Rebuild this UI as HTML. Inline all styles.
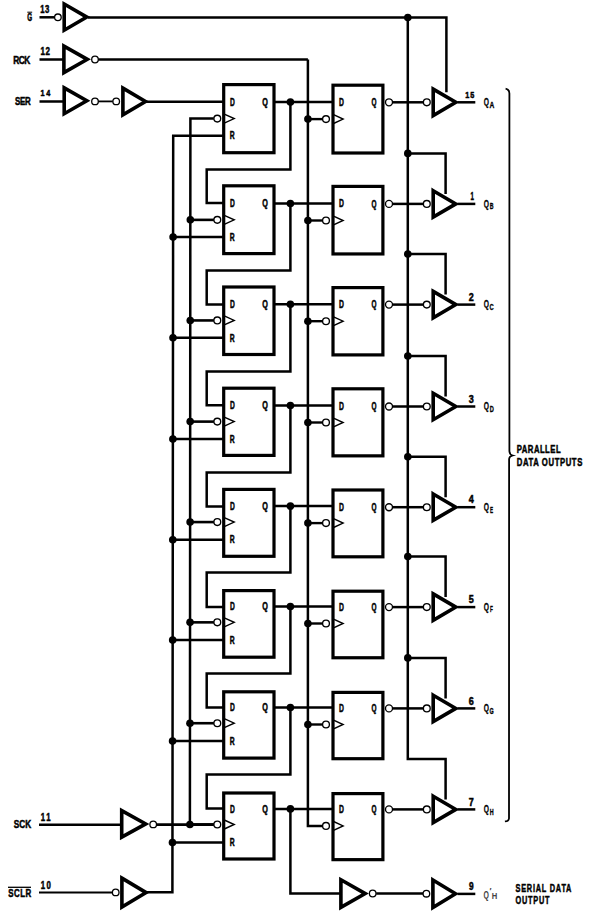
<!DOCTYPE html>
<html><head><meta charset="utf-8"><style>
html,body{margin:0;padding:0;background:#fff;width:605px;height:913px;overflow:hidden}
svg{display:block}
text{font-family:"Liberation Sans",sans-serif;font-weight:bold}
</style></head><body>
<svg width="605" height="913" viewBox="0 0 605 913">
<g stroke="#000" fill="none" stroke-linecap="butt">
<line x1="39.50" y1="17.30" x2="54.20" y2="17.30" stroke-width="2.5"/>
<circle cx="57.90" cy="17.30" r="3.3" fill="#fff" stroke-width="1.3"/>
<polygon points="64.20,4.00 86.80,17.10 64.20,30.20" fill="#fff" stroke-width="3.6" stroke-linejoin="miter" stroke-miterlimit="10"/>
<line x1="88.00" y1="17.40" x2="407.80" y2="17.40" stroke-width="2.5"/>
<line x1="39.50" y1="59.50" x2="63.00" y2="59.50" stroke-width="2.5"/>
<polygon points="63.90,46.10 87.30,59.35 63.90,72.60" fill="#fff" stroke-width="3.6" stroke-linejoin="miter" stroke-miterlimit="10"/>
<circle cx="95.00" cy="59.50" r="3.3" fill="#fff" stroke-width="1.3"/>
<line x1="98.30" y1="59.50" x2="307.90" y2="59.50" stroke-width="2.5"/>
<line x1="39.50" y1="101.50" x2="63.00" y2="101.50" stroke-width="2.5"/>
<polygon points="64.20,87.85 86.80,100.80 64.20,113.75" fill="#fff" stroke-width="3.6" stroke-linejoin="miter" stroke-miterlimit="10"/>
<circle cx="95.00" cy="101.40" r="3.3" fill="#fff" stroke-width="1.3"/>
<line x1="98.30" y1="101.40" x2="112.90" y2="101.40" stroke-width="1.8"/>
<circle cx="116.20" cy="101.40" r="3.3" fill="#fff" stroke-width="1.3"/>
<polygon points="122.90,88.10 145.50,101.50 122.90,114.90" fill="#fff" stroke-width="3.6" stroke-linejoin="miter" stroke-miterlimit="10"/>
<line x1="146.00" y1="101.80" x2="224.00" y2="101.80" stroke-width="2.5"/>
<line x1="39.00" y1="824.70" x2="121.00" y2="824.70" stroke-width="2.5"/>
<polygon points="121.70,810.65 145.70,823.90 121.70,837.15" fill="#fff" stroke-width="3.6" stroke-linejoin="miter" stroke-miterlimit="10"/>
<circle cx="153.20" cy="824.40" r="3.3" fill="#fff" stroke-width="1.3"/>
<line x1="156.40" y1="824.60" x2="213.80" y2="824.60" stroke-width="2.8"/>
<line x1="39.00" y1="892.50" x2="112.30" y2="892.50" stroke-width="2.2"/>
<circle cx="115.70" cy="892.40" r="3.3" fill="#fff" stroke-width="1.3"/>
<polygon points="121.90,878.10 146.10,892.60 121.90,907.10" fill="#fff" stroke-width="3.6" stroke-linejoin="miter" stroke-miterlimit="10"/>
<polyline points="147.00,892.30 172.40,892.30 173.20,135.70 224.00,135.70" stroke-width="2.5" fill="none"/>
<polyline points="189.90,824.49 190.40,118.60 213.80,118.60" stroke-width="2.5" fill="none"/>
<polyline points="307.90,59.50 307.90,825.90 322.50,825.90" stroke-width="2.5" fill="none"/>
<polyline points="407.80,17.50 407.80,758.90 445.60,758.90 445.60,799.40" stroke-width="2.5" fill="none"/>
<polyline points="407.80,17.50 446.40,17.50 446.40,92.30" stroke-width="2.5" fill="none"/>
<circle cx="407.80" cy="17.50" r="3.8" fill="#000" stroke="none"/>
<rect x="223.70" y="84.60" width="50.30" height="68.10" stroke-width="3.2" fill="none"/>
<polyline points="223.70,113.85 234.20,118.60 223.70,123.35" fill="none" stroke-width="1.4" stroke-linejoin="miter"/>
<circle cx="217.30" cy="118.60" r="3.4" fill="#fff" stroke-width="1.35"/>
<line x1="274.00" y1="102.10" x2="333.00" y2="102.10" stroke-width="2.5"/>
<circle cx="290.40" cy="102.10" r="3.8" fill="#000" stroke="none"/>
<polyline points="290.40,102.10 290.40,169.40 206.70,169.40 206.70,203.10 224.00,203.10" stroke-width="2.5" fill="none"/>
<rect x="333.00" y="85.20" width="49.90" height="67.80" stroke-width="3.2" fill="none"/>
<polyline points="333.00,114.45 343.10,119.10 333.00,123.75" fill="none" stroke-width="1.4" stroke-linejoin="miter"/>
<circle cx="326.00" cy="119.10" r="3.4" fill="#fff" stroke-width="1.35"/>
<line x1="307.90" y1="119.10" x2="322.60" y2="119.10" stroke-width="2.4"/>
<circle cx="307.90" cy="119.10" r="3.8" fill="#000" stroke="none"/>
<circle cx="389.00" cy="102.30" r="3.5" fill="#fff" stroke-width="1.35"/>
<line x1="392.50" y1="102.30" x2="423.20" y2="102.30" stroke-width="2.5"/>
<circle cx="426.80" cy="102.30" r="3.4" fill="#fff" stroke-width="1.35"/>
<polygon points="433.20,89.10 455.80,102.30 433.20,115.50" fill="#fff" stroke-width="3.6" stroke-linejoin="miter" stroke-miterlimit="10"/>
<line x1="457.50" y1="102.30" x2="475.30" y2="102.30" stroke-width="2.5"/>
<rect x="223.70" y="185.80" width="50.30" height="67.80" stroke-width="3.2" fill="none"/>
<polyline points="223.70,215.12 234.20,219.87 223.70,224.62" fill="none" stroke-width="1.4" stroke-linejoin="miter"/>
<circle cx="217.30" cy="219.87" r="3.4" fill="#fff" stroke-width="1.35"/>
<line x1="190.33" y1="219.87" x2="213.90" y2="219.87" stroke-width="2.6"/>
<circle cx="190.33" cy="219.87" r="3.8" fill="#000" stroke="none"/>
<line x1="173.09" y1="237.10" x2="224.00" y2="237.10" stroke-width="2.5"/>
<circle cx="173.09" cy="237.10" r="3.8" fill="#000" stroke="none"/>
<line x1="274.00" y1="203.50" x2="333.00" y2="203.50" stroke-width="2.5"/>
<circle cx="290.40" cy="203.50" r="3.8" fill="#000" stroke="none"/>
<polyline points="290.40,203.50 290.40,270.50 206.70,270.50 206.70,304.50 224.00,304.50" stroke-width="2.5" fill="none"/>
<rect x="333.00" y="186.40" width="49.90" height="67.55" stroke-width="3.2" fill="none"/>
<polyline points="333.00,215.85 343.10,220.50 333.00,225.15" fill="none" stroke-width="1.4" stroke-linejoin="miter"/>
<circle cx="326.00" cy="220.50" r="3.4" fill="#fff" stroke-width="1.35"/>
<line x1="307.90" y1="220.50" x2="322.60" y2="220.50" stroke-width="2.4"/>
<circle cx="307.90" cy="220.50" r="3.8" fill="#000" stroke="none"/>
<circle cx="389.00" cy="203.90" r="3.5" fill="#fff" stroke-width="1.35"/>
<line x1="392.50" y1="203.90" x2="423.20" y2="203.90" stroke-width="2.5"/>
<circle cx="426.80" cy="203.90" r="3.4" fill="#fff" stroke-width="1.35"/>
<polygon points="433.20,190.70 455.80,203.90 433.20,217.10" fill="#fff" stroke-width="3.6" stroke-linejoin="miter" stroke-miterlimit="10"/>
<line x1="457.50" y1="203.90" x2="475.30" y2="203.90" stroke-width="2.5"/>
<polyline points="407.80,153.40 445.60,153.40 445.60,193.90" stroke-width="2.5" fill="none"/>
<circle cx="407.80" cy="153.40" r="3.8" fill="#000" stroke="none"/>
<rect x="223.70" y="287.00" width="50.30" height="67.50" stroke-width="3.2" fill="none"/>
<polyline points="223.70,315.69 234.20,320.44 223.70,325.19" fill="none" stroke-width="1.4" stroke-linejoin="miter"/>
<circle cx="217.30" cy="320.44" r="3.4" fill="#fff" stroke-width="1.35"/>
<line x1="190.26" y1="320.44" x2="213.90" y2="320.44" stroke-width="2.6"/>
<circle cx="190.26" cy="320.44" r="3.8" fill="#000" stroke="none"/>
<line x1="172.99" y1="337.80" x2="224.00" y2="337.80" stroke-width="2.5"/>
<circle cx="172.99" cy="337.80" r="3.8" fill="#000" stroke="none"/>
<line x1="274.00" y1="304.20" x2="333.00" y2="304.20" stroke-width="2.5"/>
<circle cx="290.40" cy="304.20" r="3.8" fill="#000" stroke="none"/>
<polyline points="290.40,304.20 290.40,371.40 206.70,371.40 206.70,405.20 224.00,405.20" stroke-width="2.5" fill="none"/>
<rect x="333.00" y="287.60" width="49.90" height="67.30" stroke-width="3.2" fill="none"/>
<polyline points="333.00,316.55 343.10,321.20 333.00,325.85" fill="none" stroke-width="1.4" stroke-linejoin="miter"/>
<circle cx="326.00" cy="321.20" r="3.4" fill="#fff" stroke-width="1.35"/>
<line x1="307.90" y1="321.20" x2="322.60" y2="321.20" stroke-width="2.4"/>
<circle cx="307.90" cy="321.20" r="3.8" fill="#000" stroke="none"/>
<circle cx="389.00" cy="304.60" r="3.5" fill="#fff" stroke-width="1.35"/>
<line x1="392.50" y1="304.60" x2="423.20" y2="304.60" stroke-width="2.5"/>
<circle cx="426.80" cy="304.60" r="3.4" fill="#fff" stroke-width="1.35"/>
<polygon points="433.20,291.40 455.80,304.60 433.20,317.80" fill="#fff" stroke-width="3.6" stroke-linejoin="miter" stroke-miterlimit="10"/>
<line x1="457.50" y1="304.60" x2="475.30" y2="304.60" stroke-width="2.5"/>
<polyline points="407.80,254.10 445.60,254.10 445.60,294.60" stroke-width="2.5" fill="none"/>
<circle cx="407.80" cy="254.10" r="3.8" fill="#000" stroke="none"/>
<rect x="223.70" y="388.20" width="50.30" height="67.20" stroke-width="3.2" fill="none"/>
<polyline points="223.70,416.86 234.20,421.61 223.70,426.36" fill="none" stroke-width="1.4" stroke-linejoin="miter"/>
<circle cx="217.30" cy="421.61" r="3.4" fill="#fff" stroke-width="1.35"/>
<line x1="190.19" y1="421.61" x2="213.90" y2="421.61" stroke-width="2.6"/>
<circle cx="190.19" cy="421.61" r="3.8" fill="#000" stroke="none"/>
<line x1="172.88" y1="439.10" x2="224.00" y2="439.10" stroke-width="2.5"/>
<circle cx="172.88" cy="439.10" r="3.8" fill="#000" stroke="none"/>
<line x1="274.00" y1="405.50" x2="333.00" y2="405.50" stroke-width="2.5"/>
<circle cx="290.40" cy="405.50" r="3.8" fill="#000" stroke="none"/>
<polyline points="290.40,405.50 290.40,472.50 206.70,472.50 206.70,506.50 224.00,506.50" stroke-width="2.5" fill="none"/>
<rect x="333.00" y="388.80" width="49.90" height="67.05" stroke-width="3.2" fill="none"/>
<polyline points="333.00,417.85 343.10,422.50 333.00,427.15" fill="none" stroke-width="1.4" stroke-linejoin="miter"/>
<circle cx="326.00" cy="422.50" r="3.4" fill="#fff" stroke-width="1.35"/>
<line x1="307.90" y1="422.50" x2="322.60" y2="422.50" stroke-width="2.4"/>
<circle cx="307.90" cy="422.50" r="3.8" fill="#000" stroke="none"/>
<circle cx="389.00" cy="406.50" r="3.5" fill="#fff" stroke-width="1.35"/>
<line x1="392.50" y1="406.50" x2="423.20" y2="406.50" stroke-width="2.5"/>
<circle cx="426.80" cy="406.50" r="3.4" fill="#fff" stroke-width="1.35"/>
<polygon points="433.20,393.30 455.80,406.50 433.20,419.70" fill="#fff" stroke-width="3.6" stroke-linejoin="miter" stroke-miterlimit="10"/>
<line x1="457.50" y1="406.50" x2="475.30" y2="406.50" stroke-width="2.5"/>
<polyline points="407.80,356.00 445.60,356.00 445.60,396.50" stroke-width="2.5" fill="none"/>
<circle cx="407.80" cy="356.00" r="3.8" fill="#000" stroke="none"/>
<rect x="223.70" y="489.40" width="50.30" height="66.90" stroke-width="3.2" fill="none"/>
<polyline points="223.70,517.33 234.20,522.08 223.70,526.83" fill="none" stroke-width="1.4" stroke-linejoin="miter"/>
<circle cx="217.30" cy="522.08" r="3.4" fill="#fff" stroke-width="1.35"/>
<line x1="190.11" y1="522.08" x2="213.90" y2="522.08" stroke-width="2.6"/>
<circle cx="190.11" cy="522.08" r="3.8" fill="#000" stroke="none"/>
<line x1="172.77" y1="539.70" x2="224.00" y2="539.70" stroke-width="2.5"/>
<circle cx="172.77" cy="539.70" r="3.8" fill="#000" stroke="none"/>
<line x1="274.00" y1="506.10" x2="333.00" y2="506.10" stroke-width="2.5"/>
<circle cx="290.40" cy="506.10" r="3.8" fill="#000" stroke="none"/>
<polyline points="290.40,506.10 290.40,572.60 206.70,572.60 206.70,607.10 224.00,607.10" stroke-width="2.5" fill="none"/>
<rect x="333.00" y="490.00" width="49.90" height="66.80" stroke-width="3.2" fill="none"/>
<polyline points="333.00,518.45 343.10,523.10 333.00,527.75" fill="none" stroke-width="1.4" stroke-linejoin="miter"/>
<circle cx="326.00" cy="523.10" r="3.4" fill="#fff" stroke-width="1.35"/>
<line x1="307.90" y1="523.10" x2="322.60" y2="523.10" stroke-width="2.4"/>
<circle cx="307.90" cy="523.10" r="3.8" fill="#000" stroke="none"/>
<circle cx="389.00" cy="507.20" r="3.5" fill="#fff" stroke-width="1.35"/>
<line x1="392.50" y1="507.20" x2="423.20" y2="507.20" stroke-width="2.5"/>
<circle cx="426.80" cy="507.20" r="3.4" fill="#fff" stroke-width="1.35"/>
<polygon points="433.20,494.00 455.80,507.20 433.20,520.40" fill="#fff" stroke-width="3.6" stroke-linejoin="miter" stroke-miterlimit="10"/>
<line x1="457.50" y1="507.20" x2="475.30" y2="507.20" stroke-width="2.5"/>
<polyline points="407.80,456.70 445.60,456.70 445.60,497.20" stroke-width="2.5" fill="none"/>
<circle cx="407.80" cy="456.70" r="3.8" fill="#000" stroke="none"/>
<rect x="223.70" y="590.60" width="50.30" height="66.60" stroke-width="3.2" fill="none"/>
<polyline points="223.70,617.60 234.20,622.35 223.70,627.10" fill="none" stroke-width="1.4" stroke-linejoin="miter"/>
<circle cx="217.30" cy="622.35" r="3.4" fill="#fff" stroke-width="1.35"/>
<line x1="190.04" y1="622.35" x2="213.90" y2="622.35" stroke-width="2.6"/>
<circle cx="190.04" cy="622.35" r="3.8" fill="#000" stroke="none"/>
<line x1="172.67" y1="640.10" x2="224.00" y2="640.10" stroke-width="2.5"/>
<circle cx="172.67" cy="640.10" r="3.8" fill="#000" stroke="none"/>
<line x1="274.00" y1="606.50" x2="333.00" y2="606.50" stroke-width="2.5"/>
<circle cx="290.40" cy="606.50" r="3.8" fill="#000" stroke="none"/>
<polyline points="290.40,606.50 290.40,673.60 206.70,673.60 206.70,707.50 224.00,707.50" stroke-width="2.5" fill="none"/>
<rect x="333.00" y="591.20" width="49.90" height="66.55" stroke-width="3.2" fill="none"/>
<polyline points="333.00,618.85 343.10,623.50 333.00,628.15" fill="none" stroke-width="1.4" stroke-linejoin="miter"/>
<circle cx="326.00" cy="623.50" r="3.4" fill="#fff" stroke-width="1.35"/>
<line x1="307.90" y1="623.50" x2="322.60" y2="623.50" stroke-width="2.4"/>
<circle cx="307.90" cy="623.50" r="3.8" fill="#000" stroke="none"/>
<circle cx="389.00" cy="607.10" r="3.5" fill="#fff" stroke-width="1.35"/>
<line x1="392.50" y1="607.10" x2="423.20" y2="607.10" stroke-width="2.5"/>
<circle cx="426.80" cy="607.10" r="3.4" fill="#fff" stroke-width="1.35"/>
<polygon points="433.20,593.90 455.80,607.10 433.20,620.30" fill="#fff" stroke-width="3.6" stroke-linejoin="miter" stroke-miterlimit="10"/>
<line x1="457.50" y1="607.10" x2="475.30" y2="607.10" stroke-width="2.5"/>
<polyline points="407.80,556.60 445.60,556.60 445.60,597.10" stroke-width="2.5" fill="none"/>
<circle cx="407.80" cy="556.60" r="3.8" fill="#000" stroke="none"/>
<rect x="223.70" y="691.80" width="50.30" height="66.30" stroke-width="3.2" fill="none"/>
<polyline points="223.70,718.47 234.20,723.22 223.70,727.97" fill="none" stroke-width="1.4" stroke-linejoin="miter"/>
<circle cx="217.30" cy="723.22" r="3.4" fill="#fff" stroke-width="1.35"/>
<line x1="189.97" y1="723.22" x2="213.90" y2="723.22" stroke-width="2.6"/>
<circle cx="189.97" cy="723.22" r="3.8" fill="#000" stroke="none"/>
<line x1="172.56" y1="741.10" x2="224.00" y2="741.10" stroke-width="2.5"/>
<circle cx="172.56" cy="741.10" r="3.8" fill="#000" stroke="none"/>
<line x1="274.00" y1="707.50" x2="333.00" y2="707.50" stroke-width="2.5"/>
<circle cx="290.40" cy="707.50" r="3.8" fill="#000" stroke="none"/>
<polyline points="290.40,707.50 290.40,774.40 206.70,774.40 206.70,808.50 224.00,808.50" stroke-width="2.5" fill="none"/>
<rect x="333.00" y="692.40" width="49.90" height="66.30" stroke-width="3.2" fill="none"/>
<polyline points="333.00,719.85 343.10,724.50 333.00,729.15" fill="none" stroke-width="1.4" stroke-linejoin="miter"/>
<circle cx="326.00" cy="724.50" r="3.4" fill="#fff" stroke-width="1.35"/>
<line x1="307.90" y1="724.50" x2="322.60" y2="724.50" stroke-width="2.4"/>
<circle cx="307.90" cy="724.50" r="3.8" fill="#000" stroke="none"/>
<circle cx="389.00" cy="708.40" r="3.5" fill="#fff" stroke-width="1.35"/>
<line x1="392.50" y1="708.40" x2="423.20" y2="708.40" stroke-width="2.5"/>
<circle cx="426.80" cy="708.40" r="3.4" fill="#fff" stroke-width="1.35"/>
<polygon points="433.20,695.20 455.80,708.40 433.20,721.60" fill="#fff" stroke-width="3.6" stroke-linejoin="miter" stroke-miterlimit="10"/>
<line x1="457.50" y1="708.40" x2="475.30" y2="708.40" stroke-width="2.5"/>
<polyline points="407.80,657.90 445.60,657.90 445.60,698.40" stroke-width="2.5" fill="none"/>
<circle cx="407.80" cy="657.90" r="3.8" fill="#000" stroke="none"/>
<rect x="223.70" y="793.00" width="50.30" height="66.00" stroke-width="3.2" fill="none"/>
<polyline points="223.70,819.74 234.20,824.49 223.70,829.24" fill="none" stroke-width="1.4" stroke-linejoin="miter"/>
<circle cx="217.30" cy="824.49" r="3.4" fill="#fff" stroke-width="1.35"/>
<line x1="189.90" y1="824.49" x2="213.90" y2="824.49" stroke-width="2.6"/>
<circle cx="189.90" cy="824.49" r="3.8" fill="#000" stroke="none"/>
<line x1="172.45" y1="842.50" x2="224.00" y2="842.50" stroke-width="2.5"/>
<circle cx="172.45" cy="842.50" r="3.8" fill="#000" stroke="none"/>
<line x1="274.00" y1="808.90" x2="333.00" y2="808.90" stroke-width="2.5"/>
<circle cx="290.40" cy="808.90" r="3.8" fill="#000" stroke="none"/>
<rect x="333.00" y="793.60" width="49.90" height="66.05" stroke-width="3.2" fill="none"/>
<polyline points="333.00,821.25 343.10,825.90 333.00,830.55" fill="none" stroke-width="1.4" stroke-linejoin="miter"/>
<circle cx="326.00" cy="825.90" r="3.4" fill="#fff" stroke-width="1.35"/>
<circle cx="389.00" cy="809.40" r="3.5" fill="#fff" stroke-width="1.35"/>
<line x1="392.50" y1="809.40" x2="423.20" y2="809.40" stroke-width="2.5"/>
<circle cx="426.80" cy="809.40" r="3.4" fill="#fff" stroke-width="1.35"/>
<polygon points="433.20,796.20 455.80,809.40 433.20,822.60" fill="#fff" stroke-width="3.6" stroke-linejoin="miter" stroke-miterlimit="10"/>
<line x1="457.50" y1="809.40" x2="475.30" y2="809.40" stroke-width="2.5"/>
<polyline points="290.40,808.90 290.40,893.50 342.00,893.50" stroke-width="2.5" fill="none"/>
<polygon points="340.90,879.80 365.20,893.60 340.90,907.40" fill="#fff" stroke-width="3.6" stroke-linejoin="miter" stroke-miterlimit="10"/>
<circle cx="372.70" cy="893.50" r="3.3" fill="#fff" stroke-width="1.3"/>
<line x1="376.20" y1="893.50" x2="423.00" y2="893.60" stroke-width="2.5"/>
<circle cx="426.40" cy="893.70" r="3.3" fill="#fff" stroke-width="1.3"/>
<polygon points="432.90,880.00 455.50,893.80 432.90,907.60" fill="#fff" stroke-width="3.6" stroke-linejoin="miter" stroke-miterlimit="10"/>
<line x1="457.50" y1="893.90" x2="475.30" y2="893.90" stroke-width="2.5"/>
<path d="M505.6,88.6 Q509.4,89.5 509.4,93.5 L509.4,451.2 Q509.6,454.6 512.7,455.5 Q509.2,456.4 509.1,459 L509.0,818.5 Q508.8,821.2 504.9,821.4" fill="none" stroke-width="1.8"/>
</g>
<g stroke="#000" stroke-width="0.5">
<text x="27.30" y="20.70" font-size="10.29" textLength="4.90" lengthAdjust="spacingAndGlyphs" fill="#000" >G</text>
<line x1="27.3" y1="12.2" x2="32.2" y2="12.2" stroke-width="1.0"/>
<text transform="translate(40.30,12.80) scale(0.74,1)" font-size="10.43" textLength="12.30" lengthAdjust="spacing" fill="#000" >13</text>
<text transform="translate(13.30,64.00) scale(0.74,1)" font-size="11.29" textLength="22.97" lengthAdjust="spacing" fill="#000" >RCK</text>
<text transform="translate(40.50,54.90) scale(0.74,1)" font-size="10.86" textLength="12.84" lengthAdjust="spacing" fill="#000" >12</text>
<text transform="translate(14.90,105.30) scale(0.74,1)" font-size="10.71" textLength="21.22" lengthAdjust="spacing" fill="#000" >SER</text>
<text transform="translate(40.50,96.30) scale(0.74,1)" font-size="9.86" textLength="13.38" lengthAdjust="spacing" fill="#000" >14</text>
<text transform="translate(13.80,827.90) scale(0.74,1)" font-size="11.14" textLength="23.65" lengthAdjust="spacing" fill="#000" >SCK</text>
<text transform="translate(40.80,821.10) scale(0.74,1)" font-size="10.57" textLength="13.24" lengthAdjust="spacing" fill="#000" >11</text>
<text transform="translate(8.20,896.50) scale(0.74,1)" font-size="10.71" textLength="31.08" lengthAdjust="spacing" fill="#000" >SCLR</text>
<line x1="8.0" y1="887.3" x2="31.0" y2="887.3" stroke-width="1.3"/>
<text transform="translate(40.80,888.60) scale(0.74,1)" font-size="10.57" textLength="13.51" lengthAdjust="spacing" fill="#000" >10</text>
<text x="230.00" y="105.70" font-size="10.71" textLength="4.80" lengthAdjust="spacingAndGlyphs" fill="#000" >D</text>
<text x="262.20" y="105.70" font-size="10.71" textLength="5.60" lengthAdjust="spacingAndGlyphs" fill="#000" >Q</text>
<text x="229.80" y="139.40" font-size="10.71" textLength="4.90" lengthAdjust="spacingAndGlyphs" fill="#000" >R</text>
<text x="339.10" y="105.80" font-size="10.71" textLength="4.90" lengthAdjust="spacingAndGlyphs" fill="#000" >D</text>
<text x="371.60" y="105.90" font-size="10.71" textLength="5.00" lengthAdjust="spacingAndGlyphs" fill="#000" >Q</text>
<text x="230.00" y="207.10" font-size="10.71" textLength="4.80" lengthAdjust="spacingAndGlyphs" fill="#000" >D</text>
<text x="262.20" y="207.10" font-size="10.71" textLength="5.60" lengthAdjust="spacingAndGlyphs" fill="#000" >Q</text>
<text x="229.80" y="240.80" font-size="10.71" textLength="4.90" lengthAdjust="spacingAndGlyphs" fill="#000" >R</text>
<text x="339.10" y="207.40" font-size="10.71" textLength="4.90" lengthAdjust="spacingAndGlyphs" fill="#000" >D</text>
<text x="371.60" y="207.50" font-size="10.71" textLength="5.00" lengthAdjust="spacingAndGlyphs" fill="#000" >Q</text>
<text x="230.00" y="307.80" font-size="10.71" textLength="4.80" lengthAdjust="spacingAndGlyphs" fill="#000" >D</text>
<text x="262.20" y="307.80" font-size="10.71" textLength="5.60" lengthAdjust="spacingAndGlyphs" fill="#000" >Q</text>
<text x="229.80" y="341.50" font-size="10.71" textLength="4.90" lengthAdjust="spacingAndGlyphs" fill="#000" >R</text>
<text x="339.10" y="308.10" font-size="10.71" textLength="4.90" lengthAdjust="spacingAndGlyphs" fill="#000" >D</text>
<text x="371.60" y="308.20" font-size="10.71" textLength="5.00" lengthAdjust="spacingAndGlyphs" fill="#000" >Q</text>
<text x="230.00" y="409.10" font-size="10.71" textLength="4.80" lengthAdjust="spacingAndGlyphs" fill="#000" >D</text>
<text x="262.20" y="409.10" font-size="10.71" textLength="5.60" lengthAdjust="spacingAndGlyphs" fill="#000" >Q</text>
<text x="229.80" y="442.80" font-size="10.71" textLength="4.90" lengthAdjust="spacingAndGlyphs" fill="#000" >R</text>
<text x="339.10" y="410.00" font-size="10.71" textLength="4.90" lengthAdjust="spacingAndGlyphs" fill="#000" >D</text>
<text x="371.60" y="410.10" font-size="10.71" textLength="5.00" lengthAdjust="spacingAndGlyphs" fill="#000" >Q</text>
<text x="230.00" y="509.70" font-size="10.71" textLength="4.80" lengthAdjust="spacingAndGlyphs" fill="#000" >D</text>
<text x="262.20" y="509.70" font-size="10.71" textLength="5.60" lengthAdjust="spacingAndGlyphs" fill="#000" >Q</text>
<text x="229.80" y="543.40" font-size="10.71" textLength="4.90" lengthAdjust="spacingAndGlyphs" fill="#000" >R</text>
<text x="339.10" y="510.70" font-size="10.71" textLength="4.90" lengthAdjust="spacingAndGlyphs" fill="#000" >D</text>
<text x="371.60" y="510.80" font-size="10.71" textLength="5.00" lengthAdjust="spacingAndGlyphs" fill="#000" >Q</text>
<text x="230.00" y="610.10" font-size="10.71" textLength="4.80" lengthAdjust="spacingAndGlyphs" fill="#000" >D</text>
<text x="262.20" y="610.10" font-size="10.71" textLength="5.60" lengthAdjust="spacingAndGlyphs" fill="#000" >Q</text>
<text x="229.80" y="643.80" font-size="10.71" textLength="4.90" lengthAdjust="spacingAndGlyphs" fill="#000" >R</text>
<text x="339.10" y="610.60" font-size="10.71" textLength="4.90" lengthAdjust="spacingAndGlyphs" fill="#000" >D</text>
<text x="371.60" y="610.70" font-size="10.71" textLength="5.00" lengthAdjust="spacingAndGlyphs" fill="#000" >Q</text>
<text x="230.00" y="711.10" font-size="10.71" textLength="4.80" lengthAdjust="spacingAndGlyphs" fill="#000" >D</text>
<text x="262.20" y="711.10" font-size="10.71" textLength="5.60" lengthAdjust="spacingAndGlyphs" fill="#000" >Q</text>
<text x="229.80" y="744.80" font-size="10.71" textLength="4.90" lengthAdjust="spacingAndGlyphs" fill="#000" >R</text>
<text x="339.10" y="711.90" font-size="10.71" textLength="4.90" lengthAdjust="spacingAndGlyphs" fill="#000" >D</text>
<text x="371.60" y="712.00" font-size="10.71" textLength="5.00" lengthAdjust="spacingAndGlyphs" fill="#000" >Q</text>
<text x="230.00" y="812.50" font-size="10.71" textLength="4.80" lengthAdjust="spacingAndGlyphs" fill="#000" >D</text>
<text x="262.20" y="812.50" font-size="10.71" textLength="5.60" lengthAdjust="spacingAndGlyphs" fill="#000" >Q</text>
<text x="229.80" y="846.20" font-size="10.71" textLength="4.90" lengthAdjust="spacingAndGlyphs" fill="#000" >R</text>
<text x="339.10" y="812.90" font-size="10.71" textLength="4.90" lengthAdjust="spacingAndGlyphs" fill="#000" >D</text>
<text x="371.60" y="813.00" font-size="10.71" textLength="5.00" lengthAdjust="spacingAndGlyphs" fill="#000" >Q</text>
<text transform="translate(465.20,97.70) scale(0.74,1)" font-size="9.86" textLength="12.16" lengthAdjust="spacing" fill="#000" >15</text>
<text x="483.80" y="106.00" font-size="11.43" textLength="5.20" lengthAdjust="spacingAndGlyphs" fill="#000" stroke-width="0.3">Q</text>
<text x="489.40" y="107.60" font-size="8.29" textLength="4.80" lengthAdjust="spacingAndGlyphs" fill="#000" stroke-width="0.3">A</text>
<text x="470.60" y="200.00" font-size="10.29" textLength="3.40" lengthAdjust="spacingAndGlyphs" fill="#000" >1</text>
<text x="483.80" y="207.60" font-size="11.43" textLength="5.20" lengthAdjust="spacingAndGlyphs" fill="#000" stroke-width="0.3">Q</text>
<text x="489.80" y="209.20" font-size="8.29" textLength="3.80" lengthAdjust="spacingAndGlyphs" fill="#000" stroke-width="0.3">B</text>
<text x="468.80" y="300.70" font-size="10.29" textLength="5.00" lengthAdjust="spacingAndGlyphs" fill="#000" >2</text>
<text x="483.80" y="308.30" font-size="11.43" textLength="5.20" lengthAdjust="spacingAndGlyphs" fill="#000" stroke-width="0.3">Q</text>
<text x="489.60" y="309.90" font-size="8.29" textLength="4.20" lengthAdjust="spacingAndGlyphs" fill="#000" stroke-width="0.3">C</text>
<text x="468.80" y="402.60" font-size="10.29" textLength="5.00" lengthAdjust="spacingAndGlyphs" fill="#000" >3</text>
<text x="483.80" y="410.20" font-size="11.43" textLength="5.20" lengthAdjust="spacingAndGlyphs" fill="#000" stroke-width="0.3">Q</text>
<text x="489.70" y="411.80" font-size="8.29" textLength="4.10" lengthAdjust="spacingAndGlyphs" fill="#000" stroke-width="0.3">D</text>
<text x="468.80" y="503.30" font-size="10.29" textLength="5.00" lengthAdjust="spacingAndGlyphs" fill="#000" >4</text>
<text x="483.80" y="510.90" font-size="11.43" textLength="5.20" lengthAdjust="spacingAndGlyphs" fill="#000" stroke-width="0.3">Q</text>
<text x="489.90" y="512.50" font-size="8.29" textLength="3.10" lengthAdjust="spacingAndGlyphs" fill="#000" stroke-width="0.3">E</text>
<text x="468.80" y="603.20" font-size="10.29" textLength="5.00" lengthAdjust="spacingAndGlyphs" fill="#000" >5</text>
<text x="483.80" y="610.80" font-size="11.43" textLength="5.20" lengthAdjust="spacingAndGlyphs" fill="#000" stroke-width="0.3">Q</text>
<text x="489.90" y="612.40" font-size="8.29" textLength="2.90" lengthAdjust="spacingAndGlyphs" fill="#000" stroke-width="0.3">F</text>
<text x="468.80" y="704.50" font-size="10.29" textLength="5.00" lengthAdjust="spacingAndGlyphs" fill="#000" >6</text>
<text x="483.80" y="712.10" font-size="11.43" textLength="5.20" lengthAdjust="spacingAndGlyphs" fill="#000" stroke-width="0.3">Q</text>
<text x="489.60" y="713.70" font-size="8.29" textLength="4.20" lengthAdjust="spacingAndGlyphs" fill="#000" stroke-width="0.3">G</text>
<text x="468.80" y="805.50" font-size="10.29" textLength="5.00" lengthAdjust="spacingAndGlyphs" fill="#000" >7</text>
<text x="483.80" y="813.10" font-size="11.43" textLength="5.20" lengthAdjust="spacingAndGlyphs" fill="#000" stroke-width="0.3">Q</text>
<text x="489.70" y="814.70" font-size="8.29" textLength="3.90" lengthAdjust="spacingAndGlyphs" fill="#000" stroke-width="0.3">H</text>
<text x="469.00" y="889.60" font-size="10.57" textLength="4.60" lengthAdjust="spacingAndGlyphs" fill="#000" >9</text>
<g stroke="none" font-weight="normal" fill="#444">
<text x="483.60" y="898.50" font-size="11.43" textLength="5.40" lengthAdjust="spacingAndGlyphs" fill="#444" >Q</text>
<text x="489.40" y="894.00" font-size="8.57" textLength="2.00" lengthAdjust="spacingAndGlyphs" fill="#444" >′</text>
<text x="491.80" y="898.50" font-size="8.57" textLength="5.50" lengthAdjust="spacingAndGlyphs" fill="#444" >H</text>
</g>
<text transform="translate(516.80,452.60) scale(0.72,1)" font-size="10.71" textLength="60.83" lengthAdjust="spacing" fill="#000" >PARALLEL</text>
<text transform="translate(516.80,465.80) scale(0.72,1)" font-size="10.71" textLength="90.97" lengthAdjust="spacing" fill="#000" >DATA OUTPUTS</text>
<text transform="translate(515.50,891.60) scale(0.66,1)" font-size="11.14" textLength="84.70" lengthAdjust="spacing" fill="#000" >SERIAL DATA</text>
<text transform="translate(515.50,904.40) scale(0.66,1)" font-size="11.14" textLength="51.67" lengthAdjust="spacing" fill="#000" >OUTPUT</text>
</g>
</svg>
</body></html>
